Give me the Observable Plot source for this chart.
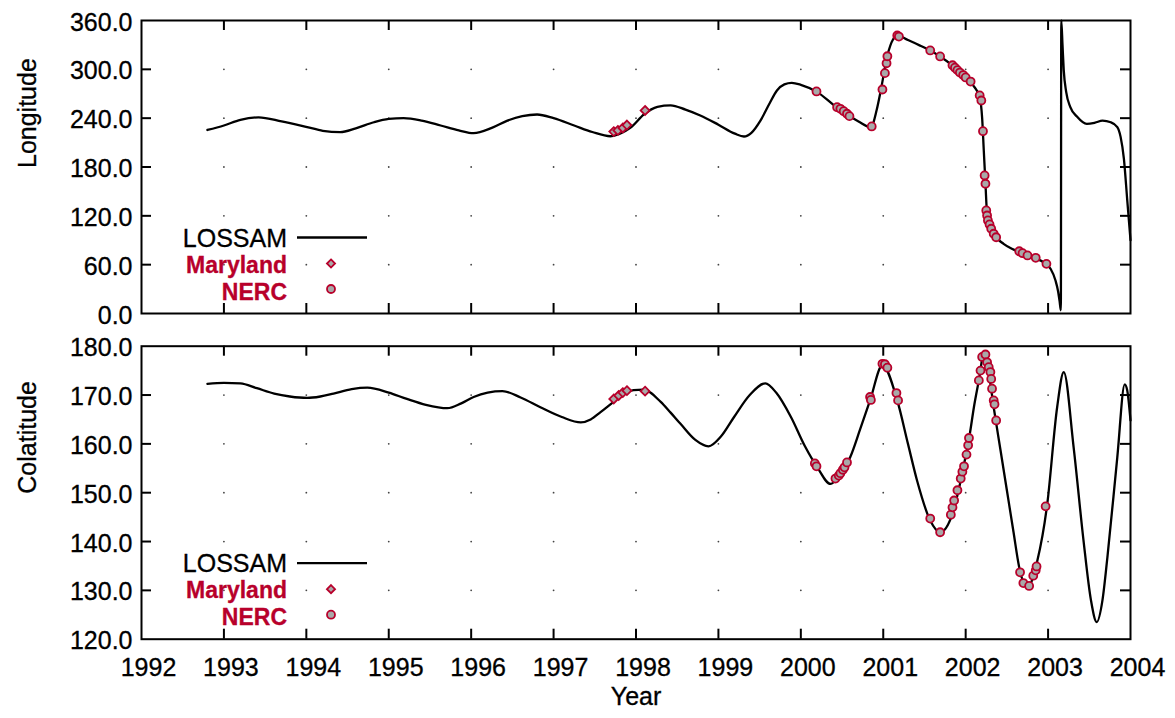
<!DOCTYPE html>
<html><head><meta charset="utf-8">
<script src="https://cdn.jsdelivr.net/npm/d3@7"></script>
<script src="https://cdn.jsdelivr.net/npm/@observablehq/plot@0.6"></script>
<style>
html,body{margin:0;padding:0;background:#fff;overflow:hidden}
#chart svg{display:block;max-width:none}
#chart text{stroke:black;stroke-width:0.3px}
</style></head><body><div id="chart"></div>
<script>
// ---------- data ----------
const yearTicks = [1992,1993,1994,1995,1996,1997,1998,1999,2000,2001,2002,2003,2004];
const lonTicks = [0,60,120,180,240,300,360];
const colatTicks = [120,130,140,150,160,170,180];

const lossamLonYear = [1992.80,1993.00,1993.20,1993.42,1993.70,1994.01,1994.20,1994.41,1994.60,1994.82,1995.00,1995.18,1995.40,1995.63,1995.85,1996.03,1996.25,1996.44,1996.62,1996.80,1997.00,1997.25,1997.47,1997.69,1997.80,1997.93,1998.10,1998.18,1998.26,1998.42,1998.60,1998.78,1999.00,1999.20,1999.31,1999.40,1999.51,1999.62,1999.71,1999.80,1999.89,2000.00,2000.20,2000.40,2000.56,2000.70,2000.85,2000.92,2000.97,2001.05,2001.12,2001.17,2001.30,2001.45,2001.57,2001.69,2001.85,2002.00,2002.10,2002.17,2002.20,2002.22,2002.24,2002.26,2002.30,2002.34,2002.40,2002.46,2002.56,2002.66,2002.80,2002.97,2003.03,2003.09,2003.12,2003.14,2003.155,2003.16,2003.175,2003.19,2003.22,2003.27,2003.35,2003.47,2003.57,2003.66,2003.76,2003.84,2003.88,2003.92,2003.96,2004.00];
const lossamLon = [225.5,231,238,241,236,229,224.5,222.8,227.5,235,239,240,237,231,225,221.5,228,237,242.5,244.5,240,231,223,217.8,220.5,228,245,250.5,254,255.8,250.5,243.3,232,221,217.5,222,237,258,274,281.5,283.4,281,272,256,244.5,236,229,250,274,317,337,341.6,336,329,323.2,315.8,304,290.5,279,266,240,200,160,122,106,98,90.5,85.6,79.5,75.3,70,61,55,40.5,28,15,4,360,330,299,272,253.5,242,233,234.5,237,235,229,217,190,140,90];

const lossamColatYear = [1992.80,1993.00,1993.20,1993.40,1993.61,1993.80,1994.01,1994.17,1994.33,1994.55,1994.74,1995.00,1995.22,1995.45,1995.71,1995.88,1996.03,1996.20,1996.38,1996.60,1996.84,1997.10,1997.33,1997.45,1997.57,1997.72,1997.85,1997.97,1998.09,1998.30,1998.42,1998.54,1998.72,1998.88,1999.03,1999.19,1999.38,1999.57,1999.70,1999.88,2000.05,2000.20,2000.36,2000.46,2000.60,2000.72,2000.84,2000.99,2001.17,2001.30,2001.41,2001.57,2001.69,2001.84,2001.94,2002.00,2002.05,2002.10,2002.16,2002.22,2002.28,2002.34,2002.42,2002.50,2002.58,2002.65,2002.75,2002.87,2002.99,2003.11,2003.19,2003.31,2003.43,2003.52,2003.59,2003.66,2003.72,2003.84,2003.93,2003.96,2004.00];
const lossamColat = [172.3,172.5,172.4,171.4,170.3,169.7,169.4,169.7,170.3,171.2,171.5,170.5,169.2,168.0,167.3,168.3,169.6,170.5,170.8,169.5,167.5,165.5,164.4,165.0,166.5,168.5,170.3,171.0,171.1,168.6,166.4,164.1,160.8,159.5,161.5,165.5,170.0,172.4,170.5,165.5,159.5,155.2,151.8,153.2,157.3,163.0,168.9,176.1,168.9,160.0,152.5,144.3,141.9,145.7,152.5,157.5,162.0,167.5,173.0,178.4,174.5,167.5,159.0,150.5,142.0,134.7,130.6,136.1,147.7,167.5,174.7,159.3,140.2,128.0,123.5,128.0,136.8,157.3,172.2,171.0,164.8];

const marylandLonYear = [1997.73,1997.78,1997.84,1997.89,1998.11];
const marylandLon = [223.5,225,228,231.5,249.5];
const marylandColatYear = [1997.73,1997.79,1997.84,1997.89,1998.11];
const marylandColat = [169.2,169.9,170.5,170.9,170.8];

const nercLonYear = [2000.19,2000.44,2000.48,2000.52,2000.56,2000.59,2000.86,2000.99,2001.02,2001.04,2001.05,2001.17,2001.19,2001.57,2001.69,2001.84,2001.87,2001.90,2001.93,2001.97,2002.00,2002.06,2002.17,2002.19,2002.21,2002.23,2002.24,2002.25,2002.26,2002.27,2002.29,2002.31,2002.34,2002.37,2002.65,2002.69,2002.75,2002.85,2002.98];
const nercLon = [272.8,253.5,251.5,248.6,245.4,242.5,229.8,275.2,295.3,307.5,316.1,341.6,340.3,323.2,315.8,305,302,299,296,293,290,285,268,261.7,224,169.6,159.4,126.6,120.4,114.3,109.4,104.1,98,93.7,76.5,74.1,71.3,68.4,61];

const nercColatYear = [2000.17,2000.19,2000.42,2000.46,2000.48,2000.51,2000.53,2000.56,2000.84,2000.85,2000.99,2001.02,2001.05,2001.16,2001.18,2001.57,2001.69,2001.82,2001.84,2001.86,2001.90,2001.94,2001.96,2001.98,2002.01,2002.03,2002.04,2002.16,2002.18,2002.20,2002.24,2002.26,2002.28,2002.30,2002.31,2002.32,2002.34,2002.35,2002.37,2002.66,2002.70,2002.77,2002.82,2002.85,2002.86,2002.97];
const nercColat = [156.0,155.4,152.9,153.5,154.0,154.7,155.2,156.2,169.6,169.0,176.4,176.3,175.6,170.4,168.9,144.7,141.9,145.5,147.0,148.4,150.5,152.9,154.3,155.4,157.8,159.7,161.2,173.0,175.0,177.8,178.3,176.7,175.7,174.7,173.3,171.3,168.9,168.1,164.8,133.7,131.5,130.9,133.0,134.1,134.9,147.2];

// ---------- style ----------
const FONT = "'Liberation Sans', Arial, Helvetica, sans-serif";
const FS = 25;
const LFS = 23;
const RED = "#b8002b";
const GRAY = "#a9a9a9";
const FRAME_H = 293;
const FRAME_W = 989;
const zip = (xs, ys) => xs.map((x, i) => ({year: x, value: ys[i]}));
const innerYears = yearTicks.slice(1, -1);

function legendMark(index, scales, values, dim) {
  const L = dim.marginLeft, B = dim.height - dim.marginBottom;
  const g = d3.create("svg:g").attr("font-family", FONT).attr("font-size", LFS);
  g.append("text").attr("x", L + 146).attr("y", B - 75).attr("dy", "0.35em")
    .attr("text-anchor", "end").attr("fill", "black").attr("font-size", FS).text("LOSSAM");
  g.append("line").attr("x1", L + 156).attr("x2", L + 226).attr("y1", B - 75.5).attr("y2", B - 75.5)
    .attr("stroke", "black").attr("stroke-width", 2.3);
  g.append("text").attr("x", L + 146).attr("y", B - 48.5).attr("dy", "0.35em")
    .attr("text-anchor", "end").attr("fill", RED).style("stroke", RED).attr("font-weight", "bold").text("Maryland");
  g.append("path").attr("d", d3.symbol(d3.symbolDiamond2, 42)())
    .attr("transform", `translate(${L + 190},${B - 49.5})`)
    .attr("fill", GRAY).attr("stroke", RED).attr("stroke-width", 1.8);
  g.append("text").attr("x", L + 146).attr("y", B - 21.5).attr("dy", "0.35em")
    .attr("text-anchor", "end").attr("fill", RED).style("stroke", RED).attr("font-weight", "bold").text("NERC");
  g.append("circle").attr("cx", L + 190).attr("cy", B - 24).attr("r", 4)
    .attr("fill", GRAY).attr("stroke", RED).attr("stroke-width", 1.8);
  return g.node();
}

function panel({line, md, nerc, yDomain, yTicks, ylabel, height, marginTop, marginBottom, bottomAxis}) {
  const innerY = yTicks.slice(1, -1);
  const marks = [
    Plot.dot(d3.cross(innerYears, innerY), {x: d => d[0], y: d => d[1], r: 0.9, fill: "#444", stroke: null}),
    Plot.frame({stroke: "black", strokeWidth: 2}),
    Plot.tickX(innerYears, {x: d => d, insetBottom: FRAME_H - 10, stroke: "black", strokeWidth: 2}),
    Plot.tickX(innerYears, {x: d => d, insetTop: FRAME_H - 10, stroke: "black", strokeWidth: 2}),
    Plot.tickY(innerY, {y: d => d, insetRight: FRAME_W - 10, stroke: "black", strokeWidth: 2}),
    Plot.tickY(innerY, {y: d => d, insetLeft: FRAME_W - 10, stroke: "black", strokeWidth: 2}),
    Plot.axisY({ticks: yTicks, tickFormat: ".1f", tickSize: 0, tickPadding: 9, dy: 2, label: null, fontSize: FS}),
    Plot.text([ylabel], {frameAnchor: "left", rotate: -90, dx: -114, dy: 1, fontSize: FS}),
    Plot.line(line, {x: "year", y: "value", curve: "monotone-x", stroke: "black", strokeWidth: 2.3}),
    Plot.dot(md, {x: "year", y: "value", symbol: "diamond2", r: 4, fill: GRAY, stroke: RED, strokeWidth: 1.8}),
    Plot.dot(nerc, {x: "year", y: "value", r: 4, fill: GRAY, stroke: RED, strokeWidth: 1.8}),
    legendMark
  ];
  if (bottomAxis) {
    marks.push(Plot.axisX({ticks: yearTicks, tickFormat: d => String(d), tickSize: 0, tickPadding: 19, dx: 7, label: null, fontSize: FS}));
    marks.push(Plot.text(["Year"], {frameAnchor: "bottom", dy: 66, fontSize: FS}));
  }
  return Plot.plot({
    width: 1175, height, marginTop, marginBottom, marginLeft: 141, marginRight: 45,
    style: {fontFamily: FONT, fontSize: FS + "px", background: "white", color: "black", overflow: "visible"},
    x: {domain: [1992, 2004], axis: null},
    y: {domain: yDomain, axis: null},
    marks
  });
}

const chart = document.getElementById("chart");
chart.append(panel({
  line: zip(lossamLonYear, lossamLon), md: zip(marylandLonYear, marylandLon), nerc: zip(nercLonYear, nercLon),
  yDomain: [0, 360], yTicks: lonTicks, ylabel: "Longitude",
  height: 330, marginTop: 20, marginBottom: 17, bottomAxis: false
}));
chart.append(panel({
  line: zip(lossamColatYear, lossamColat), md: zip(marylandColatYear, marylandColat), nerc: zip(nercColatYear, nercColat),
  yDomain: [120, 180], yTicks: colatTicks, ylabel: "Colatitude",
  height: 388, marginTop: 15.7, marginBottom: 79.3, bottomAxis: true
}));
</script></body></html>
